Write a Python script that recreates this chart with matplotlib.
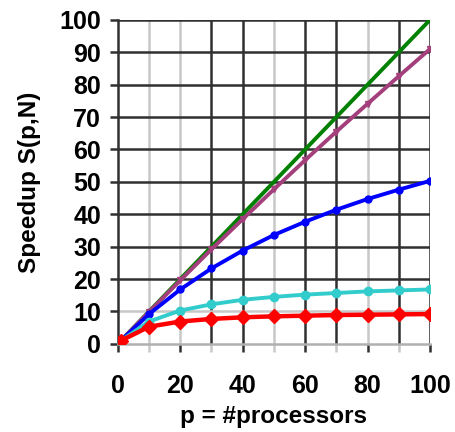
import numpy as np
import matplotlib
matplotlib.use('Agg')
import matplotlib.pyplot as plt

plt.rcParams['font.family'] = ['Liberation Sans', 'DejaVu Sans']
plt.rcParams['font.weight'] = 'bold'

# processors
p = [1, 10, 20, 30, 40, 50, 60, 70, 80, 90, 100]

# speedup curves
ideal = [1, 10, 20, 30, 40, 50, 60, 70, 80, 90, 100]
s_purple = [1, 9.9, 19.6, 29.2, 38.5, 47.7, 56.7, 65.5, 74.1, 82.6, 91.0]
s_blue = [1, 9.2, 16.8, 23.3, 28.8, 33.6, 37.7, 41.4, 44.7, 47.6, 50.3]
s_cyan = [1, 6.9, 10.3, 12.2, 13.6, 14.5, 15.2, 15.7, 16.2, 16.5, 16.8]
s_red = [1, 5.3, 6.9, 7.7, 8.2, 8.5, 8.7, 8.9, 9.0, 9.1, 9.2]

fig = plt.figure(figsize=(4.55, 4.32), dpi=100)
ax = fig.add_axes([0.259, 0.204, 0.686, 0.75])

# grid
for x in range(10, 101, 10):
    c = '#c8c8c8' if x in (10, 20, 50, 80) else '#303030'
    ax.axvline(x, color=c, lw=1.8, zorder=1)
for y in range(10, 101, 10):
    c = '#c8c8c8' if y == 10 else '#303030'
    ax.axhline(y, color=c, lw=1.8, zorder=1)

ax.plot(p, ideal, color='#008000', lw=2.8, zorder=3)
ax.plot(p, s_purple, color='#a3407c', lw=2.8, marker='v', ms=5, zorder=3)
ax.plot(p, s_blue, color='#0000ff', lw=2.8, marker='o', ms=5, zorder=3)
ax.plot(p, s_cyan, color='#33cccc', lw=2.8, marker='o', ms=6, zorder=3)
ax.plot(p, s_red, color='#ff0000', lw=3.2, marker='D', ms=7, zorder=4)

ax.set_xlim(0, 100)
ax.set_ylim(0, 100)
ax.set_xticks(range(0, 101, 20))
ax.set_xticks(range(10, 101, 20), minor=True)
ax.set_yticks(range(0, 101, 10))

for s in ['top', 'right']:
    ax.spines[s].set_visible(False)
ax.spines['left'].set_color('#303030')
ax.spines['left'].set_linewidth(1.8)
ax.spines['bottom'].set_color('#b0b0b0')
ax.spines['bottom'].set_linewidth(1.8)

ax.tick_params(axis='both', which='both', direction='out', length=6, width=1.8,
               color='#303030', labelsize=18)
ax.tick_params(axis='x', which='minor', color='#c8c8c8')
ax.tick_params(axis='x', pad=16)
ax.tick_params(axis='y', pad=6)

ax.set_xlabel('p = #processors', fontsize=17.5, fontweight='bold', labelpad=5)
ax.set_ylabel('Speedup S(p,N)', fontsize=17.5, fontweight='bold', labelpad=13)

fig.savefig('out.png', dpi=100)
